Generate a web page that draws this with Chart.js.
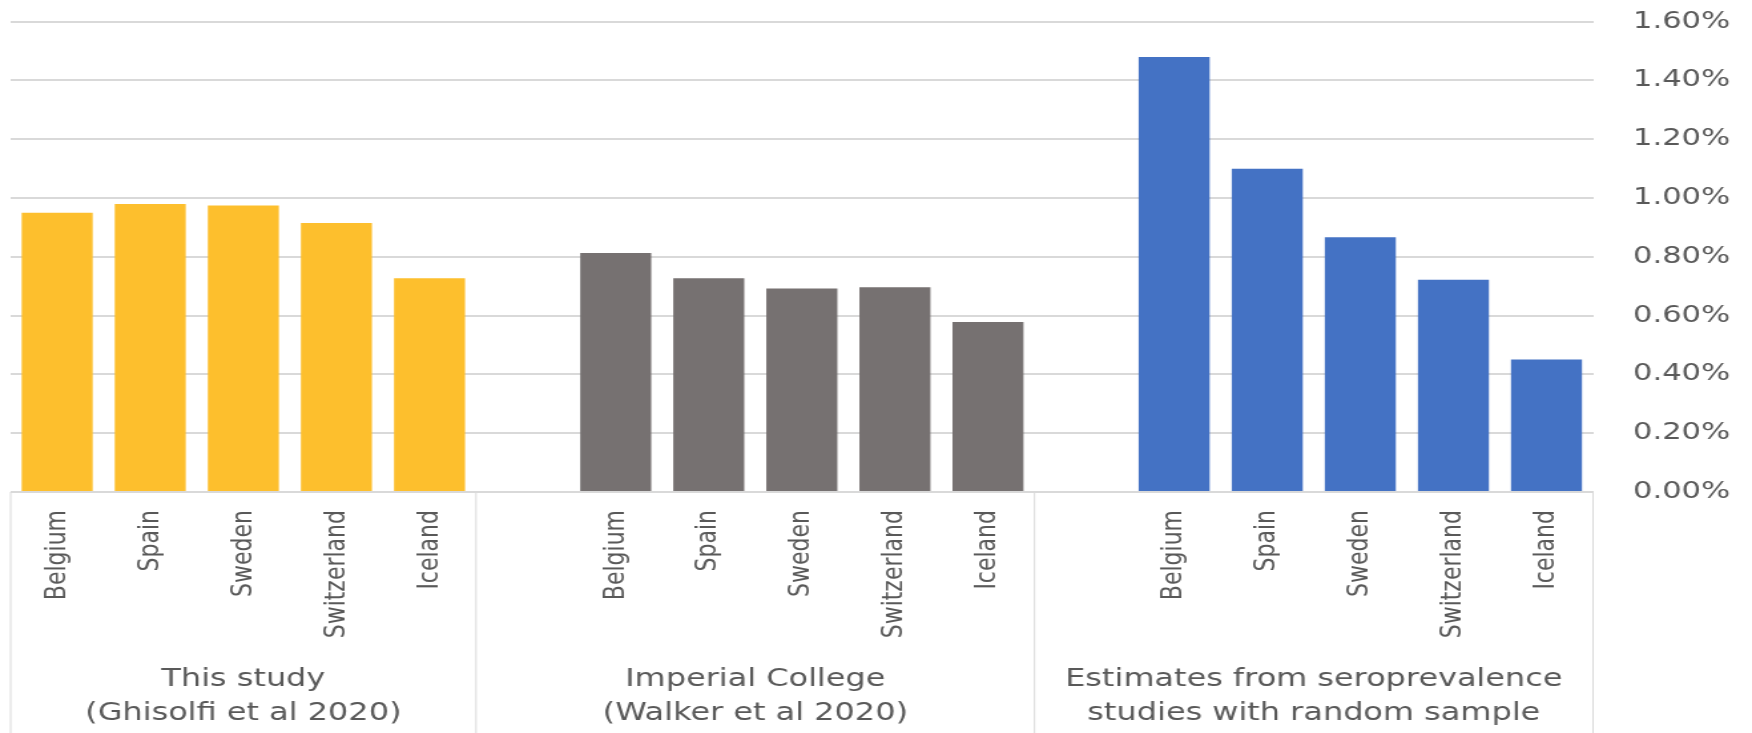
<!DOCTYPE html>
<html>
<head>
<meta charset="utf-8">
<script src="https://cdn.jsdelivr.net/npm/chart.js@4.4.0/dist/chart.umd.min.js"></script>
<style>
  html, body { margin: 0; padding: 0; background: #ffffff; overflow: hidden; }
  canvas { display: block; }
</style>
</head>
<body>
<!-- drawn at 1317 wide and stretched to 1752, like the reference picture -->
<canvas id="chart" width="1317" height="733" style="width:1752px;height:733px"></canvas>
<script>
const countries = ['Belgium', 'Spain', 'Sweden', 'Switzerland', 'Iceland'];
const groupTitles = [
  ['This study', '(Ghisolfi et al 2020)'],
  ['Imperial College', '(Walker et al 2020)'],
  ['Estimates from seroprevalence', 'studies with random sample']
];
const thisStudy = [0.95, 0.98, 0.975, 0.915, 0.727];
const imperialCollege = [0.813, 0.727, 0.692, 0.697, 0.578];
const seroprevalence = [1.48, 1.10, 0.867, 0.722, 0.451];
const groupColors = ['#FDBF2D', '#767171', '#4472C4'];
const yMax = 1.6;
const yStep = 0.2;

const TEXT_COLOR = '#595959';
const LINE_COLOR = '#d9d9d9';

// one empty slot in front of every group but the first, as in the excel axis
const labels = [];
const groupRanges = [];
[thisStudy, imperialCollege, seroprevalence].forEach((values, g) => {
  const start = labels.length;
  if (g > 0) labels.push('');
  countries.forEach(c => labels.push(c));
  groupRanges.push([start, labels.length]);
});

const datasets = [thisStudy, imperialCollege, seroprevalence].map((values, g) => {
  const data = labels.map(() => null);
  const offset = groupRanges[g][1] - countries.length;
  values.forEach((v, i) => { data[offset + i] = v; });
  return {
    data: data,
    backgroundColor: groupColors[g],
    borderWidth: 0
  };
});

const groupAxis = {
  id: 'groupAxis',
  afterDraw(chart) {
    const ctx = chart.ctx;
    const x = chart.scales.x;
    const slot = x.getPixelForValue(1) - x.getPixelForValue(0);

    ctx.save();
    ctx.strokeStyle = LINE_COLOR;
    ctx.lineWidth = 1;
    ctx.fillStyle = TEXT_COLOR;
    ctx.font = '24px "DejaVu Sans"';
    ctx.textAlign = 'center';
    ctx.textBaseline = 'middle';

    groupRanges.forEach(([start, end], g) => {
      const left = x.getPixelForValue(start) - slot / 2;
      const right = x.getPixelForValue(end - 1) + slot / 2;

      ctx.beginPath();
      if (g === 0) {
        ctx.moveTo(left, x.top);
        ctx.lineTo(left, chart.height);
      }
      ctx.moveTo(right, x.top);
      ctx.lineTo(right, chart.height);
      ctx.stroke();

      const cx = (left + right) / 2;
      groupTitles[g].forEach((line, i) => {
        ctx.fillText(line, cx, chart.height - 53 + i * 34);
      });
    });
    ctx.restore();
  }
};

function renderChart(canvasId) {
  const canvas = document.getElementById(canvasId);
  if (!canvas) {
    console.error(`Canvas with id ${canvasId} not found`);
    return;
  }

  const config = {
    type: 'bar',
    data: {
      labels: labels,
      datasets: datasets
    },
    options: {
      responsive: false,
      devicePixelRatio: 1,
      animation: false,
      datasets: {
        bar: {
          grouped: false,
          barPercentage: 0.763,
          categoryPercentage: 1
        }
      },
      layout: {
        padding: { left: 8, top: 21.7, right: 0, bottom: 0 }
      },
      plugins: {
        legend: { display: false },
        tooltip: { enabled: false }
      },
      scales: {
        x: {
          grid: { display: false, drawTicks: false },
          border: { display: false },
          ticks: {
            autoSkip: false,
            minRotation: 90,
            maxRotation: 90,
            padding: 18,
            color: TEXT_COLOR,
            font: { family: 'DejaVu Sans', size: 22 }
          },
          afterFit: s => { s.height = 241; }
        },
        y: {
          position: 'right',
          min: 0,
          max: yMax,
          grid: { color: LINE_COLOR, lineWidth: 2, drawTicks: false },
          border: { display: false },
          ticks: {
            stepSize: yStep,
            padding: 30,
            color: TEXT_COLOR,
            font: { family: 'DejaVu Sans', size: 23 },
            callback: v => v.toFixed(2) + '%'
          },
          afterFit: s => {
            s.width = 119.5;
            // the label gap is only wanted sideways
            s.paddingTop = 14;
            s.paddingBottom = 14;
          }
        }
      }
    },
    plugins: [groupAxis]
  };

  return new Chart(canvas.getContext('2d'), config);
}

renderChart('chart');
</script>
</body>
</html>
